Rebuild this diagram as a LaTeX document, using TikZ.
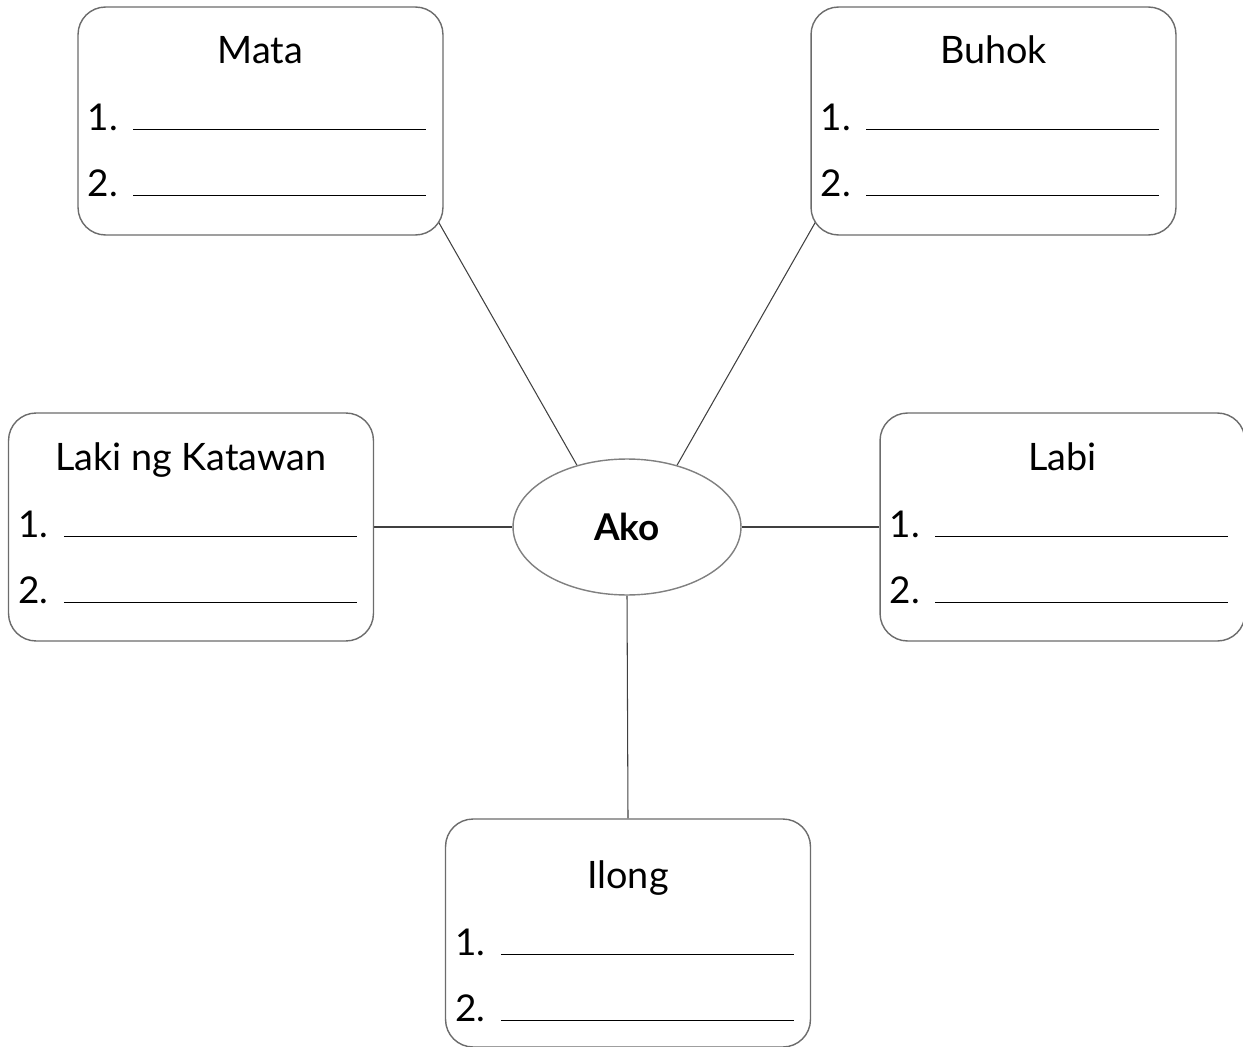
\documentclass[tikz,border=0pt]{standalone}
\usepackage{fontspec}
\setmainfont{Lato}
\usetikzlibrary{shapes,positioning,calc,backgrounds}

\begin{document}
\begin{tikzpicture}[x=0.02cm, y=-0.02cm,
    card/.style={draw=gray!85!black, line width=0.8pt, rounded corners=0.55cm, fill=white,
        minimum width=7.3cm, minimum height=4.56cm, inner sep=0pt},
    title/.style={anchor=base, inner sep=0pt, font=\fontsize{21.5}{25}\selectfont},
    num/.style={anchor=base east, inner sep=0pt, font=\fontsize{21}{25}\selectfont},
    blank/.style={line width=0.7pt},
    link/.style={draw=black!75, line width=0.6pt}]
    \useasboundingbox (0,0) rectangle (1243,1047);

    % Center ellipse
    \node[ellipse, draw=gray, line width=0.8pt, fill=white, minimum width=4.56cm, minimum height=2.72cm,
        font=\bfseries\fontsize{21}{25}\selectfont] (ako) at (627,527) {Ako};

    % Boxes: name / center x / center y / shift of contents / title
    \foreach \n/\cx/\cy/\d/\t in {mata/260.5/121/0/Mata, buhok/993.5/121/0/Buhok,
        laki/191/527/1/Laki ng Katawan, labi/1062.5/527/1/Labi, ilong/628/933/13/Ilong} {
        \node[card] (\n) at (\cx,\cy) {};
        \node[title] (\n-title) at ($(\n.north)+(0,57+\d)$) {\t};
        \node[num] (\n-one) at ($(\n.north west)+(41,124+\d)$) {1.};
        \node[num] (\n-two) at ($(\n.north west)+(41,190+\d)$) {2.};
        \draw[blank] ($(\n.north west)+(56,123+\d)$) -- ($(\n.north west)+(349,123+\d)$);
        \draw[blank] ($(\n.north west)+(56,189+\d)$) -- ($(\n.north west)+(349,189+\d)$);
    }

    % Connections (behind the boxes)
    \begin{scope}[on background layer]
        \draw[link, shorten >=-0.3cm] (ako.129) -- (mata.-31);
        \draw[link, shorten >=-0.3cm] (ako.51) -- (buhok.-149);
        \draw[link] (laki.east) -- (ako.west);
        \draw[link] (ako.east) -- (labi.west);
        \draw[link] (ako.south) -- (ilong.north);
    \end{scope}
\end{tikzpicture}
\end{document}
